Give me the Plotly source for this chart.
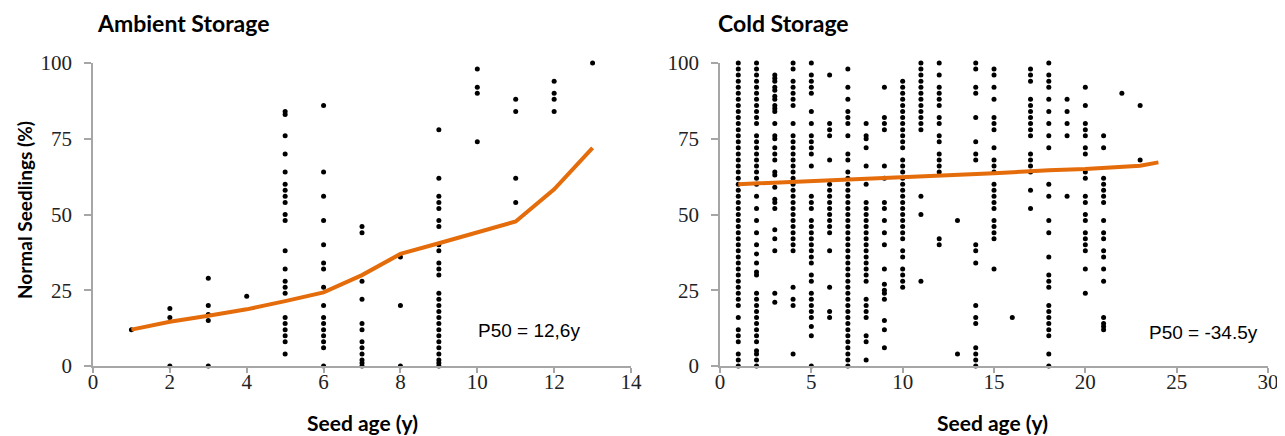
import plotly.graph_objects as go

# ---------------- Ambient storage data ----------------
amb_x_groups = [1, 2, 3, 4, 5, 6, 7, 8, 9, 10, 11, 12, 13]
amb_y_groups = [
    [12],
    [0, 16, 19],
    [0, 15, 17, 20, 29],
    [23],
    [84, 83, 76, 70, 64, 60, 58, 56, 54, 50, 48, 38, 32, 28, 26, 24, 16, 14, 12, 10, 8, 4],
    [86, 64, 56, 48, 40, 34, 32, 26, 20, 16, 14, 12, 10, 8, 6, 0],
    [46, 44, 28, 22, 14, 12, 8, 6, 4, 2, 1, 0],
    [36, 20, 0],
    [78, 62, 56, 54, 52, 48, 46, 40, 38, 34, 32, 30, 24, 22, 20, 18, 16, 14, 12, 10, 8, 6, 4, 2, 1, 0],
    [98, 92, 90, 74],
    [88, 84, 62, 54],
    [94, 90, 88, 84],
    [100],
]
amb_fit_x = [1, 2, 3, 4, 5, 6, 7, 8, 9, 10, 11, 12, 13]
amb_fit_y = [12, 14.6, 16.6, 18.7, 21.4, 24.3, 30, 37, 40.5, 44, 47.7, 58.3, 72]

# ---------------- Cold storage data ----------------
cold_x_groups = [1, 2, 3, 4, 5, 6, 7, 8, 9, 10, 11, 12, 13, 14, 15, 16, 17, 18, 19, 20, 21, 22, 23]
cold_y_groups = [
    [100, 98, 96, 94, 92, 90, 88, 86, 84, 82, 80, 78, 76, 74, 72, 70, 68, 66, 64, 62, 60,
     58, 56, 54, 52, 50, 48, 46, 44, 42, 40, 38, 36, 34, 32, 30, 28, 26, 24, 22, 20, 16,
     12, 10, 8, 4, 2, 0],
    [100, 98, 96, 94, 92, 90, 88, 86, 84, 82, 80, 76, 74, 72, 70, 68, 66, 64, 62, 60, 56,
     52, 48, 44, 40, 37, 34, 31, 30, 24, 22, 20, 18, 16, 14, 12, 10, 8, 5, 4, 2, 0],
    [96, 95, 94, 92, 91, 89, 88, 86, 85, 84, 80, 76, 75, 72, 70, 68, 64, 63, 59, 55, 54,
     52, 45, 42, 38, 24, 21],
    [100, 98, 94, 92, 90, 88, 86, 80, 76, 74, 72, 70, 68, 66, 64, 62, 60, 58, 56, 54, 52,
     50, 48, 46, 44, 42, 40, 38, 26, 22, 20, 4],
    [100, 96, 94, 92, 90, 84, 80, 76, 74, 72, 70, 66, 56, 54, 52, 48, 46, 44, 42, 40, 38,
     36, 34, 30, 28, 24, 22, 20, 18, 16, 13, 10, 0],
    [96, 80, 78, 76, 68, 60, 58, 56, 54, 52, 50, 48, 46, 44, 38, 26, 18, 16],
    [98, 92, 88, 84, 82, 80, 76, 70, 68, 64, 62, 60, 58, 56, 54, 52, 50, 48, 46, 44, 42,
     40, 38, 36, 34, 32, 30, 28, 26, 24, 22, 20, 18, 16, 14, 12, 10, 8, 6, 4, 2, 0],
    [80, 76, 75, 72, 66, 60, 54, 52, 50, 48, 46, 44, 42, 40, 38, 36, 34, 32, 30, 28, 22,
     20, 18, 16, 10, 8, 2],
    [92, 82, 80, 78, 66, 62, 54, 52, 48, 44, 40, 32, 27, 25, 24, 22, 15, 12, 6],
    [94, 92, 90, 88, 86, 84, 82, 80, 78, 76, 74, 72, 68, 66, 64, 62, 60, 58, 56, 54, 52,
     50, 48, 46, 44, 42, 38, 36, 32, 30, 28, 26],
    [100, 98, 96, 94, 92, 90, 88, 86, 84, 82, 80, 78, 56, 50, 28],
    [100, 96, 92, 90, 88, 86, 82, 80, 76, 74, 70, 68, 66, 64, 42, 40],
    [48, 4],
    [100, 98, 92, 90, 82, 74, 70, 68, 40, 38, 34, 20, 16, 14, 6, 4, 2, 0],
    [98, 96, 92, 88, 82, 80, 78, 72, 68, 66, 64, 60, 58, 56, 54, 52, 48, 46, 44, 42, 32],
    [16],
    [98, 96, 94, 88, 86, 84, 82, 80, 78, 76, 70, 68, 66, 64, 58, 52],
    [100, 96, 94, 92, 88, 84, 80, 76, 72, 60, 56, 48, 44, 36, 30, 28, 26, 20, 18, 16, 14,
     12, 10, 4, 0],
    [88, 84, 80, 76, 56],
    [92, 86, 80, 78, 76, 72, 70, 64, 62, 56, 54, 50, 48, 44, 42, 40, 38, 32, 24],
    [76, 72, 62, 60, 58, 56, 54, 48, 44, 42, 38, 36, 32, 28, 16, 14, 13, 12],
    [90],
    [86, 68],
]
cold_fit_x = [1, 5, 10, 15, 18, 20, 23, 24]
cold_fit_y = [60, 61, 62.2, 63.6, 64.6, 65.0, 66.1, 67.2]

amb_x_ticks = [0, 2, 4, 6, 8, 10, 12, 14]
cold_x_ticks = [0, 5, 10, 15, 20, 25, 30]
y_ticks = [0, 25, 50, 75, 100]


def flatten(xs, ys):
    fx, fy = [], []
    for x, vals in zip(xs, ys):
        for v in vals:
            fx.append(x)
            fy.append(v)
    return fx, fy


ax, ay = flatten(amb_x_groups, amb_y_groups)
cx, cy = flatten(cold_x_groups, cold_y_groups)

ORANGE = "#E46C0A"
GRID = "#A6A6A6"

W, H = 1285, 436
OFF = 8  # page body margin offset


def px(X):
    return (X - OFF) / W


def py(Y):
    return 1 - (Y - OFF) / H


fig = go.Figure()
fig.add_trace(go.Scatter(x=ax, y=ay, mode="markers", xaxis="x", yaxis="y",
                         marker=dict(color="black", size=5), cliponaxis=False, showlegend=False))
fig.add_trace(go.Scatter(x=amb_fit_x, y=amb_fit_y, mode="lines", xaxis="x", yaxis="y",
                         line=dict(color=ORANGE, width=4), showlegend=False))
fig.add_trace(go.Scatter(x=cx, y=cy, mode="markers", xaxis="x2", yaxis="y2",
                         marker=dict(color="black", size=5), cliponaxis=False, showlegend=False))
fig.add_trace(go.Scatter(x=cold_fit_x, y=cold_fit_y, mode="lines", xaxis="x2", yaxis="y2",
                         line=dict(color=ORANGE, width=4), showlegend=False))

tickfont = dict(family="Liberation Serif, Times New Roman, serif", size=21, color="#222222")
axis_common = dict(showgrid=False, zeroline=False, showline=True, linecolor=GRID, linewidth=1.5,
                   ticks="outside", tickcolor=GRID, tickwidth=1.5, tickfont=tickfont,
                   automargin=False)

ydom = [py(366), py(63)]
fig.update_layout(
    width=W, height=H,
    margin=dict(l=0, r=0, t=0, b=0, autoexpand=False),
    paper_bgcolor="white", plot_bgcolor="white",
    xaxis=dict(domain=[px(93), px(631)], range=[0, 14], tickvals=amb_x_ticks,
               anchor="y", ticklen=5, ticklabelstandoff=-9, **axis_common),
    yaxis=dict(domain=ydom, range=[0, 100], tickvals=y_ticks, anchor="x",
               ticklen=7, ticklabelstandoff=8, **axis_common),
    xaxis2=dict(domain=[px(720), px(1268)], range=[0, 30], tickvals=cold_x_ticks,
                anchor="y2", ticklen=5, ticklabelstandoff=-9, **axis_common),
    yaxis2=dict(domain=ydom, range=[0, 100], tickvals=y_ticks, anchor="x2",
                ticklen=7, ticklabelstandoff=8, **axis_common),
)

title_font = dict(family="Lato, Noto Sans, sans-serif", size=23, color="black")
xlabel_font = dict(family="Lato, Noto Sans, sans-serif", size=21, color="black")
ylabel_font = dict(family="Lato, Noto Sans, sans-serif", size=19, color="black")
p50_font = dict(family="Liberation Sans, Arial, sans-serif", size=19, color="black")

annos = [
    dict(text="<b>Ambient Storage</b>", x=px(95), y=py(23), xanchor="left", yanchor="middle", font=title_font),
    dict(text="<b>Cold Storage</b>", x=px(716), y=py(23), xanchor="left", yanchor="middle", font=title_font),
    dict(text="<b>Seed age (y)</b>", x=px(362), y=py(422), xanchor="center", yanchor="middle", font=xlabel_font),
    dict(text="<b>Seed age (y)</b>", x=px(992), y=py(422), xanchor="center", yanchor="middle", font=xlabel_font),
    dict(text="<b>Normal Seedlings (%)</b>", x=px(24), y=py(210), xanchor="center", yanchor="middle",
         textangle=-90, font=ylabel_font),
    dict(text="P50 = 12,6y", x=px(529), y=py(330), xanchor="center", yanchor="middle", font=p50_font),
    dict(text="P50 = -34.5y", x=px(1203), y=py(332), xanchor="center", yanchor="middle", font=p50_font),
]
for a in annos:
    a.update(xref="paper", yref="paper", showarrow=False)
fig.update_layout(annotations=annos)

fig.write_html("out.html")
